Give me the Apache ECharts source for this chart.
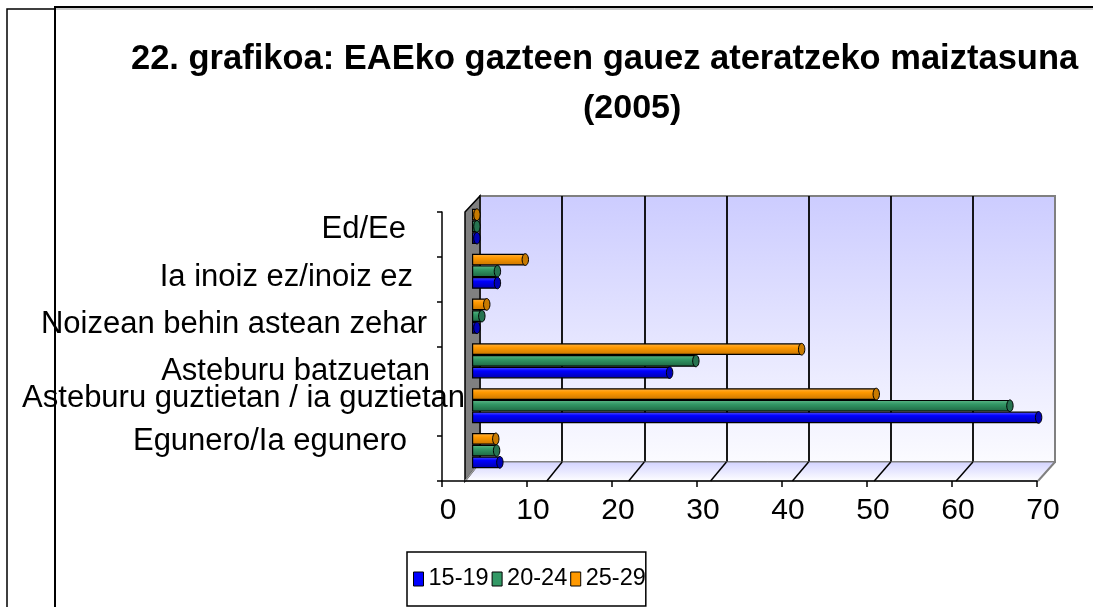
<!DOCTYPE html>
<html><head><meta charset="utf-8">
<script src="https://cdn.jsdelivr.net/npm/echarts@6/dist/echarts.min.js"></script>
<style>html,body{margin:0;padding:0;background:#fff}#c{width:1093px;height:607px}</style>
</head><body><div id="c"></div><script>
// ---- data ----
const categories = ['Egunero/Ia egunero', 'Asteburu guztietan / ia guztietan', 'Asteburu batzuetan', 'Noizean behin astean zehar', 'Ia inoiz ez/inoiz ez', 'Ed/Ee'];
const seriesNames = ['15-19', '20-24', '25-29'];
const s1519 = [3.4, 69.1, 24.1, 0.6, 3.1, 0.6];
const s2024 = [3.0, 65.6, 27.3, 1.2, 3.1, 0.6];
const s2529 = [2.9, 49.3, 40.2, 1.8, 6.5, 0.6];
const xMin = 0, xMax = 70, xStep = 10;
const titleLine1 = '22. grafikoa: EAEko gazteen gauez ateratzeko maiztasuna';
const titleLine2 = '(2005)';

// ---- layout / style (not data) ----
const FONT = "'Liberation Sans', Arial, sans-serif";
const FRONT = { x0: 442, x1: 1037, y0: 212, y1: 481 };
const BACK = { x0: 480, x1: 1055, y0: 196, y1: 462 };
const FLOOR_FRONT = { x0: 465, x1: 1038 };
const BARS = { x0: 472, x1: 1046, y0: 204 };
const BAR_W = 11.7;
const labelNudge = [ // [dy, extra right padding] per category
  [-17, 58], [-15, 0], [3, 35], [0, 38], [-2, 52], [-5, 59]
];
const colors = [
  ['#5a5aff', '#0000ff', '#0000a8'],
  ['#62b98c', '#339966', '#1d6642'],
  ['#ffb54a', '#ff9900', '#c87500']
];
const capColors = ['#0000b8', '#267350', '#c87a00'];
const flat = ['#0000ff', '#339966', '#ff9900'];

const grad = c => new echarts.graphic.LinearGradient(0, 0, 0, 1, [
  { offset: 0, color: c[0] }, { offset: 0.35, color: c[1] }, { offset: 1, color: c[2] }
]);

const rich = {};
labelNudge.forEach((n, i) => {
  const dy = n[0];
  rich['n' + i] = {
    fontSize: 31, fontFamily: FONT, color: '#000',
    padding: [dy > 0 ? 2 * dy : 0, n[1], dy < 0 ? -2 * dy : 0, 0]
  };
});

const nSteps = (xMax - xMin) / xStep;
const graphics = [];
// frame lines
graphics.push({ type: 'polyline', shape: { points: [[7, 607], [7, 9], [55, 9]] }, style: { stroke: '#000', lineWidth: 1.5, fill: null } });
graphics.push({ type: 'polyline', shape: { points: [[55, 607], [55, 7], [1093, 7]] }, style: { stroke: '#000', lineWidth: 2, fill: null } });
graphics.push({ type: 'line', shape: { x1: 56, y1: 9, x2: 1093, y2: 9 }, style: { stroke: '#999', lineWidth: 1 } });
// floor
graphics.push({ type: 'polygon', z: 1,
  shape: { points: [[FLOOR_FRONT.x0, FRONT.y1], [BACK.x0, BACK.y1], [BACK.x1, BACK.y1], [FLOOR_FRONT.x1, FRONT.y1]] },
  style: { fill: new echarts.graphic.LinearGradient(0, 0, 0, 1, [{ offset: 0, color: '#d2d2ff' }, { offset: 1, color: '#ffffff' }]), stroke: '#808080', lineWidth: 1 } });
for (let k = 1; k <= nSteps; k++) {
  const fx = FLOOR_FRONT.x0 + k * (FLOOR_FRONT.x1 - FLOOR_FRONT.x0) / nSteps;
  const bx = BACK.x0 + k * (BACK.x1 - BACK.x0) / nSteps;
  graphics.push({ type: 'line', z: 1, shape: { x1: fx, y1: FRONT.y1, x2: bx, y2: BACK.y1 },
    style: { stroke: k === nSteps ? '#808080' : '#000', lineWidth: k === nSteps ? 2 : 1.5 } });
}
// side wall
graphics.push({ type: 'polygon', z: 1,
  shape: { points: [[FLOOR_FRONT.x0, FRONT.y0], [BACK.x0, BACK.y0], [BACK.x0, BACK.y1], [FLOOR_FRONT.x0, FRONT.y1]] },
  style: { fill: '#808080', stroke: '#000', lineWidth: 1.5 } });
graphics.push({ type: 'line', z: 1, shape: { x1: FLOOR_FRONT.x0, y1: FRONT.y1, x2: BACK.x0, y2: BACK.y1 }, style: { stroke: '#a0a0a0', lineWidth: 1.5 } });

const splitColors = [];
for (let k = 0; k <= nSteps; k++) splitColors.push(k === 0 || k === nSteps ? '#808080' : '#000');

const data = [s1519, s2024, s2529];
// ECharts puts the first horizontal bar series at the top of each band,
// so series are added from oldest group (top) to youngest (bottom)
const order = [2, 1, 0];

function capRenderer(slot, color) {
  return function (params, api) {
    const p = api.coord([api.value(0), api.value(1)]);
    const cy = p[1] + (slot - 1) * BAR_W;
    const rx = 3.2, ry = BAR_W / 2;
    const pts = [];
    for (let a = 0; a < 24; a++) {
      const t = a / 24 * Math.PI * 2;
      pts.push([p[0] + rx * Math.cos(t), cy + ry * Math.sin(t)]);
    }
    return { type: 'polygon', shape: { points: pts }, style: { fill: color, stroke: '#000', lineWidth: 1 } };
  };
}

const series = [];
order.forEach((i) => {
  series.push({
    name: seriesNames[i], type: 'bar', xAxisIndex: 1, yAxisIndex: 1,
    data: data[i], barWidth: BAR_W, barGap: '0%', z: 3,
    itemStyle: { color: grad(colors[i]), borderColor: '#000', borderWidth: 1.2 }
  });
});
order.forEach((i, slot) => {
  series.push({
    name: seriesNames[i], type: 'custom', xAxisIndex: 1, yAxisIndex: 1, z: 4,
    data: data[i].map((v, c) => [v, c]),
    encode: { x: 0, y: 1 },
    renderItem: capRenderer(slot, capColors[i]), silent: true
  });
});

const chart = echarts.init(document.getElementById('c'), null, { renderer: 'canvas' });
chart.setOption({
  animation: false,
  backgroundColor: '#fff',
  title: [
    { text: titleLine1, left: 131, top: 42, padding: 0, textStyle: { fontSize: 34.5, fontWeight: 'bold', fontFamily: FONT, color: '#000' } },
    { text: titleLine2, left: 583, top: 92, padding: 0, textStyle: { fontSize: 34, fontWeight: 'bold', fontFamily: FONT, color: '#000' } }
  ],
  legend: {
    left: 407, top: 552, orient: 'horizontal',
    itemWidth: 10, itemHeight: 14, itemGap: 3,
    padding: [15, 0, 15, 6],
    borderColor: '#000', borderWidth: 1.5,
    textStyle: { fontSize: 23.5, fontFamily: FONT, color: '#000' },
    data: seriesNames.map((n, i) => ({ name: n, icon: 'rect', itemStyle: { color: flat[i], borderColor: '#000', borderWidth: 1 } }))
  },
  grid: [
    { left: FRONT.x0, top: FRONT.y0, width: FRONT.x1 - FRONT.x0, height: FRONT.y1 - FRONT.y0 },
    { left: BARS.x0, top: BARS.y0, width: BARS.x1 - BARS.x0, height: FRONT.y1 - FRONT.y0 },
    { left: BACK.x0, top: BACK.y0, width: BACK.x1 - BACK.x0, height: BACK.y1 - BACK.y0, show: true,
      backgroundColor: new echarts.graphic.LinearGradient(0, 0, 0, 1, [{ offset: 0, color: '#ccccff' }, { offset: 1, color: '#fbfbff' }]),
      borderColor: '#808080', borderWidth: 2 }
  ],
  xAxis: [
    { gridIndex: 0, type: 'value', min: xMin, max: xMax, interval: xStep, z: 5,
      axisLine: { show: true, lineStyle: { color: '#000', width: 1.5 } },
      axisTick: { show: true, length: 6, lineStyle: { color: '#000', width: 1.5 } },
      axisLabel: { fontSize: 30, margin: 15, color: '#000', fontFamily: FONT, padding: [0, 0, 0, 12] },
      splitLine: { show: false } },
    { gridIndex: 1, type: 'value', min: xMin, max: xMax, show: false, splitLine: { show: false } },
    { gridIndex: 2, type: 'value', min: xMin, max: xMax, interval: xStep,
      axisLine: { show: false }, axisTick: { show: false }, axisLabel: { show: false },
      splitLine: { show: true, lineStyle: { color: splitColors, width: 1.8 } } }
  ],
  yAxis: [
    { gridIndex: 0, type: 'category', data: categories, z: 6,
      axisLine: { show: true, lineStyle: { color: '#000', width: 1.5 } },
      axisTick: { show: true, length: 5, lineStyle: { color: '#000', width: 1.5 } },
      axisLabel: { margin: -23, color: '#000', fontSize: 31, fontFamily: FONT,
        formatter: (v, i) => '{n' + i + '|' + v + '}', rich: rich },
      splitLine: { show: false } },
    { gridIndex: 1, type: 'category', data: categories, show: false },
    { gridIndex: 2, type: 'value', show: false, splitLine: { show: false } }
  ],
  graphic: { elements: graphics },
  series: series
});
</script></body></html>
